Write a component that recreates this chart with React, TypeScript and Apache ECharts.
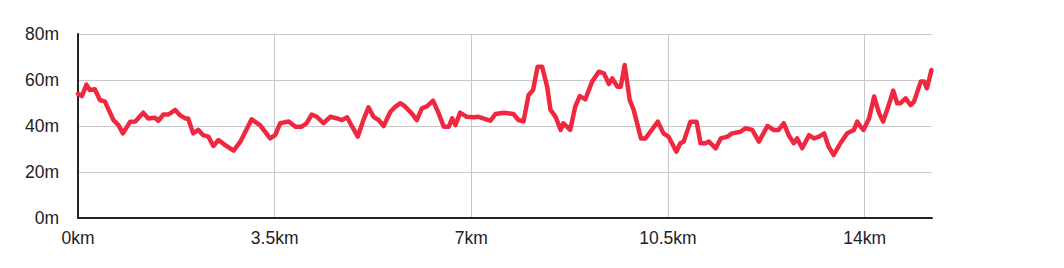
import React, { useEffect, useRef } from "react";
import * as echarts from "echarts";

const distancesKm = [
  0.0, 0.07, 0.15, 0.21, 0.3, 0.39, 0.48, 0.63, 0.72, 0.8, 0.93, 1.02, 1.16, 1.25, 1.37, 1.43, 1.52, 1.61, 1.73, 1.82,
  1.91, 1.96, 2.05, 2.14, 2.23, 2.32, 2.41, 2.5, 2.62, 2.77, 2.89, 3.09, 3.24, 3.42, 3.51, 3.6, 3.75, 3.87, 3.98, 4.07,
  4.16, 4.25, 4.37, 4.49, 4.61, 4.7, 4.79, 4.88, 4.98, 5.08, 5.17, 5.26, 5.35, 5.44, 5.56, 5.65, 5.74, 5.82, 5.94, 6.03,
  6.12, 6.21, 6.32, 6.42, 6.51, 6.6, 6.66, 6.72, 6.8, 6.92, 7.04, 7.13, 7.25, 7.34, 7.43, 7.58, 7.75, 7.84, 7.93, 8.02,
  8.1, 8.18, 8.26, 8.35, 8.41, 8.5, 8.59, 8.64, 8.76, 8.85, 8.93, 9.03, 9.15, 9.27, 9.36, 9.45, 9.51, 9.6, 9.66, 9.73,
  9.82, 9.89, 10.02, 10.1, 10.22, 10.32, 10.42, 10.51, 10.65, 10.72, 10.78, 10.9, 11.01, 11.08, 11.17, 11.23, 11.35,
  11.44, 11.56, 11.64, 11.79, 11.88, 12.0, 12.12, 12.27, 12.38, 12.47, 12.56, 12.65, 12.74, 12.8, 12.89, 13.01, 13.1,
  13.19, 13.28, 13.36, 13.45, 13.57, 13.69, 13.81, 13.87, 13.93, 13.98, 14.08, 14.17, 14.26, 14.33, 14.43, 14.51,
  14.58, 14.64, 14.73, 14.82, 14.88, 15.0, 15.06, 15.11, 15.19,
];

const elevationsM = [
  54, 53, 58, 55.6, 56, 51.3, 50.6, 42.6, 40.4, 36.8, 41.9, 42, 45.8, 43.3, 43.6, 42.3, 45, 45, 47, 44.6,
  43.3, 43.3, 36.8, 38.3, 36, 35.4, 31.3, 33.9, 31.7, 29.3, 33.2, 42.9, 40.4, 34.6, 36, 41.2, 42, 39.7, 39.7, 41.2,
  45, 44, 41.2, 44, 43.3, 42.6, 43.8, 39.7, 35.4, 42.6, 48.1, 44, 42.6, 40, 46.2, 48.4, 49.9, 48.5, 45.5, 42.6,
  47.7, 48.5, 51, 45.5, 39.7, 39.7, 43.3, 40.4, 45.8, 44, 43.8, 44, 43, 42.3, 45.2, 45.8, 45.2, 42.6, 42, 53.5,
  55.7, 65.8, 65.8, 57.1, 47, 44, 38.3, 41.2, 38.3, 48.4, 53, 51.6, 59.3, 63.6, 62.9, 58.3, 60.7, 57.1, 57.1, 66.5,
  51.3, 47, 34.6, 34.6, 38.6, 41.9, 36.8, 35.4, 28.8, 32.5, 33.2, 41.9, 41.9, 32.5, 32.5, 33.2, 30.3,
  34.6, 35.4, 36.8, 37.5, 39, 38.3, 33.2, 40, 38.3, 38.3, 41.2, 36, 32.5, 34.6, 30.3, 36, 34.6,
  35.4, 36.8, 31, 27.4, 32.5, 36.8, 38.3, 41.9, 39.7, 38.3, 43.3, 52.8, 45.5, 41.9, 49.1, 55.4,
  49.9, 49.9, 52, 49.1, 50.6, 59.3, 59.3, 56.4, 64.3,
];

const xTicks = { min: 0, max: 15.2, interval: 3.5 };
const yTicks = { min: 0, max: 80, interval: 20 };

export default function App() {
  const ref = useRef<HTMLDivElement>(null);

  useEffect(() => {
    if (!ref.current) return;
    const chart = echarts.init(ref.current, null, { renderer: "svg" });
    const labelFont = {
      fontFamily: "'Liberation Sans', Arial, sans-serif",
      fontSize: 17.5,
      color: "#222",
    };
    chart.setOption({
      animation: false,
      grid: { left: 78, right: 132, top: 34, bottom: 50, containLabel: false },
      xAxis: {
        type: "value",
        min: xTicks.min,
        max: xTicks.max,
        interval: xTicks.interval,
        axisLine: { show: true, onZero: false, lineStyle: { color: "#222", width: 2 } },
        axisTick: { show: false },
        axisLabel: { ...labelFont, margin: 11, formatter: "{value}km", showMaxLabel: false },
        splitLine: { show: true, showMaxLine: false, lineStyle: { color: "#c8c8c8", width: 1 } },
      },
      yAxis: {
        type: "value",
        min: yTicks.min,
        max: yTicks.max,
        interval: yTicks.interval,
        axisLine: { show: true, lineStyle: { color: "#222", width: 2 } },
        axisTick: { show: false },
        axisLabel: { ...labelFont, margin: 19, formatter: "{value}m" },
        splitLine: { show: true, lineStyle: { color: "#c8c8c8", width: 1 } },
      },
      series: [
        {
          type: "line",
          data: distancesKm.map((d, i) => [d, elevationsM[i]]),
          showSymbol: false,
          lineStyle: { color: "#f0283f", width: 4.5, join: "round", cap: "round" },
          itemStyle: { color: "#f0283f" },
        },
      ],
    });
    return () => chart.dispose();
  }, []);

  return (
    <div
      ref={ref}
      style={{ position: "fixed", left: 0, top: 0, width: 1064, height: 268, background: "#fff" }}
    />
  );
}
